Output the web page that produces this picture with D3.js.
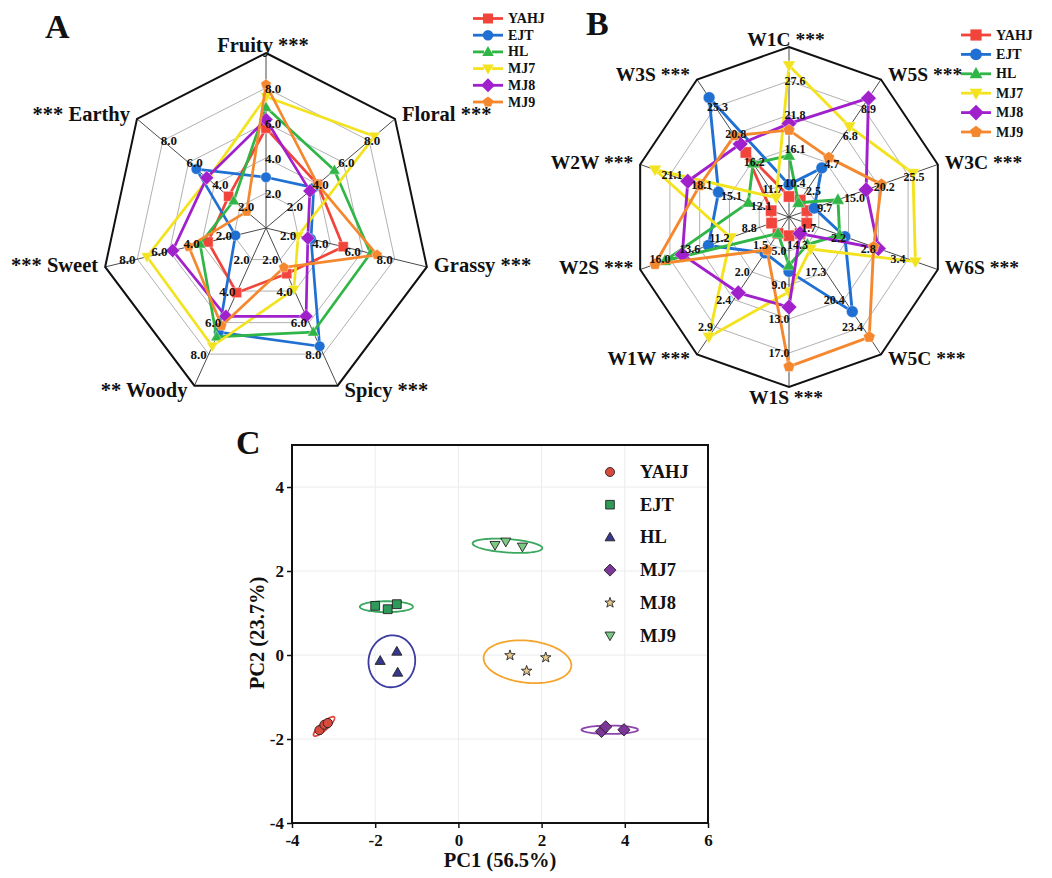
<!DOCTYPE html>
<html><head><meta charset="utf-8">
<script src="https://cdn.jsdelivr.net/npm/d3@7"></script>
<style>
body{margin:0;background:#fff}
svg{display:block}
text{font-family:"Liberation Serif","Times New Roman",serif;font-weight:bold;fill:#111}
</style></head>
<body><svg id="chart" width="1052" height="878"></svg>
<script>
// ---------------- DATA ----------------
const groups = ["YAHJ","EJT","HL","MJ7","MJ8","MJ9"];
const radarColors = ["#f1443b","#1f70d2","#30b646","#f3e31e","#a020cc","#f5882e"];
const radarShapes = ["square","circle","triangle","triangleDown","diamond","pentagon"];

// Panel A – sensory aroma attributes (scale 0–10)
const aromaAxes = ["Fruity ***","Floral ***","Grassy ***","Spicy ***","** Woody","*** Sweet","*** Earthy"];
const aromaTickLabels = ["2.0","4.0","6.0","8.0"];
const aromaRange = [0, 10];
const aromaYAHJ = [5.7, 4.0, 4.8, 2.9, 4.1, 3.6, 2.9];
const aromaEJT  = [2.9, 3.7, 2.8, 7.5, 6.6, 1.9, 5.4];
const aromaHL   = [6.9, 5.3, 6.5, 6.6, 6.9, 4.1, 2.5];
const aromaMJ7  = [7.5, 8.4, 2.0, 3.9, 7.5, 7.4, 4.5];
const aromaMJ8  = [6.2, 3.4, 2.6, 5.6, 5.6, 5.8, 4.6];
const aromaMJ9  = [8.2, 4.0, 6.9, 2.5, 6.2, 4.8, 1.5];

// Panel B – e-nose sensors (each axis own range)
const sensorAxes = ["W1C ***","W5S ***","W3C ***","W6S ***","W5C ***","W1S ***","W1W ***","W2S ***","W2W ***","W3S ***"];
const sensorMin = [4.65, 0.40, 4.43, 1.12, 11.27, 1.0, 1.03, 6.4, 9.1, 7.1];
const sensorMax = [33.3, 11.05, 30.8, 3.97, 26.43, 21.0, 3.37, 18.4, 24.1, 29.9];
const sensorTickLabels = [
  ["10.4","16.1","21.8","27.6"],["2.5","4.7","6.8","8.9"],["9.7","15.0","20.2","25.5"],
  ["1.7","2.2","2.8","3.4"],["14.3","17.3","20.4","23.4"],["5.0","9.0","13.0","17.0"],
  ["1.5","2.0","2.4","2.9"],["8.8","11.2","13.6","16.0"],["12.1","15.1","18.1","21.1"],
  ["11.7","16.2","20.8","25.3"]];
const sensorYAHJ = [8.1, 1.7, 7.6, 1.46, 13.1, 3.2, 1.31, 7.8, 10.9, 17.8];
const sensorEJT  = [10.1, 4.2, 8.9, 2.19, 21.7, 7.4, 1.64, 12.9, 16.2, 26.9];
const sensorHL   = [15.0, 1.5, 13.1, 2.09, 14.3, 6.7, 1.31, 16.4, 13.2, 16.0];
const sensorMJ7  = [30.2, 7.4, 26.4, 3.54, 14.8, 9.8, 3.07, 11.1, 22.6, 10.3];
const sensorMJ8  = [20.4, 9.6, 18.1, 2.83, 13.1, 11.6, 2.32, 15.0, 19.3, 19.2];
const sensorMJ9  = [19.3, 5.0, 20.8, 2.74, 24.5, 18.6, 1.59, 17.2, 18.1, 20.6];

// Panel C – PCA scores
const pcaFill   = ["#d84a3c","#2f9b5a","#37378c","#7c3698","#e8c98c","#7cc885"];
const pcaRing   = ["#e0473c","#3aa85e","#3b3ba0","#8e44ad","#f5a52c","#3aa85e"];
const pcaShapes = ["circle","square","triangle","diamond","star","triangleDown"];
const pc1Scores = [[-3.34,-3.22,-3.14],[-2.0,-1.70,-1.48],[-1.88,-1.48,-1.46],[3.44,3.54,3.98],[1.24,2.10,1.64],[0.88,1.14,1.54]];
const pc2Scores = [[-1.79,-1.66,-1.62],[1.17,1.09,1.21],[-0.14,0.08,-0.42],[-1.82,-1.71,-1.78],[-0.01,-0.06,-0.38],[2.62,2.70,2.58]];
const ellCx  = [-3.23, -1.73, -1.60, 3.64, 1.66, 1.18];
const ellCy  = [-1.70, 1.15, -0.15, -1.78, -0.16, 2.60];
const ellRx  = [0.33, 0.64, 0.56, 0.68, 1.06, 0.84];
const ellRy  = [0.09, 0.13, 0.62, 0.10, 0.50, 0.16];
const ellAng = [42, 0, -10, 0, -6, -4];
const pc1Ticks = [-4,-2,0,2,4,6];
const pc2Ticks = [-4,-2,0,2,4];

// ---------------- HELPERS ----------------
const svg = d3.select("#chart");
function shapePath(shape, s){
  switch(shape){
    case "square": return `M${-s},${-s}H${s}V${s}H${-s}Z`;
    case "circle": return d3.symbol(d3.symbolCircle, Math.PI*s*s*1.1)();
    case "triangle": return `M0,${-s*1.2}L${s*1.15},${s*0.8}L${-s*1.15},${s*0.8}Z`;
    case "triangleDown": return `M0,${s*1.2}L${s*1.15},${-s*0.8}L${-s*1.15},${-s*0.8}Z`;
    case "diamond": return `M0,${-s*1.4}L${s*1.4},0L0,${s*1.4}L${-s*1.4},0Z`;
    case "pentagon": {
      const p = d3.range(5).map(i=>{const a=-Math.PI/2+i*2*Math.PI/5; return [s*1.1*Math.cos(a), s*1.1*Math.sin(a)];});
      return "M"+p.map(d=>d.join(",")).join("L")+"Z";
    }
    case "star": {
      const p = d3.range(10).map(i=>{const a=-Math.PI/2+i*Math.PI/5; const r=i%2?s*0.5:s*1.25; return [r*Math.cos(a), r*Math.sin(a)];});
      return "M"+p.map(d=>d.join(",")).join("L")+"Z";
    }
  }
}

function drawRadar(cfg){
  const g = svg.append("g");
  const n = cfg.axes.length;
  const ang = i => -Math.PI/2 + i*2*Math.PI/n;
  const pt = (i,f) => [cfg.cx + f*cfg.rx*Math.cos(ang(i)), cfg.cy + f*cfg.ry*Math.sin(ang(i))];
  const levels = d3.range(1,5).map(k=>k/5);
  const poly = f => "M"+d3.range(n).map(i=>pt(i,f).join(",")).join("L")+"Z";
  levels.forEach(f=>{
    g.append("path").attr("d",poly(f)).attr("fill","none").attr("stroke","#a8a8a8").attr("stroke-width",0.9);
  });
  d3.range(n).forEach(i=>{
    const [x,y]=pt(i,1);
    g.append("line").attr("x1",cfg.cx).attr("y1",cfg.cy).attr("x2",x).attr("y2",y)
      .attr("stroke","#4a4a4a").attr("stroke-width",1);
  });
  g.append("path").attr("d",poly(1)).attr("fill","none").attr("stroke","#111").attr("stroke-width",2);
  cfg.series.forEach((vals,si)=>{
    const pts = vals.map((v,i)=>pt(i, cfg.scales[i](v)));
    g.append("path").attr("d","M"+pts.map(p=>p.join(",")).join("L")+"Z")
      .attr("fill","none").attr("stroke",radarColors[si]).attr("stroke-width",cfg.lw).attr("stroke-linejoin","round");
    pts.forEach(p=>{
      g.append("path").attr("d",shapePath(radarShapes[si],cfg.ms)).attr("transform",`translate(${p[0]},${p[1]})`)
        .attr("fill",radarColors[si]).attr("stroke","#fff").attr("stroke-opacity",0.5).attr("stroke-width",0.8);
    });
  });
  d3.range(n).forEach(i=>{
    const s = Math.sin(ang(i)), c = Math.cos(ang(i));
    const dx = s>0.05 ? -10 : (Math.abs(c)<0.05 ? cfg.topDx : (c>0 ? cfg.upRightDx : cfg.upLeftDx));
    const dy = (s<-0.05 && c>0.05) ? cfg.upRightDy : 0;
    cfg.ticks[i].forEach((lab,k)=>{
      const [x,y]=pt(i,levels[k]);
      g.append("text").attr("x", x + dx).attr("y",y + dy).attr("text-anchor","middle")
        .attr("dominant-baseline","central").attr("font-size",cfg.tickFs).text(lab);
    });
  });
  d3.range(n).forEach(i=>{
    const c = Math.cos(ang(i)), s = Math.sin(ang(i));
    const [x,y]=pt(i,1);
    let anchor, tx, ty;
    if (Math.abs(c)<0.05){ anchor="middle"; tx=x-3; ty = s<0 ? y-8 : y+10; }
    else { anchor = c>0?"start":"end"; tx = c>0? x+7 : x-7; ty = y + (s<-0.5?-5:(s>0.5?4:-2)); }
    g.append("text").attr("x",tx).attr("y",ty).attr("text-anchor",anchor).attr("dominant-baseline","central")
      .attr("font-size",cfg.labelFs).text(cfg.axes[i]);
  });
  groups.forEach((name,si)=>{
    const y = cfg.legY + si*cfg.legStep;
    g.append("line").attr("x1",cfg.legX-15).attr("x2",cfg.legX-4).attr("y1",y).attr("y2",y)
      .attr("stroke",radarColors[si]).attr("stroke-width",2.8);
    g.append("line").attr("x1",cfg.legX+4).attr("x2",cfg.legX+15).attr("y1",y).attr("y2",y)
      .attr("stroke",radarColors[si]).attr("stroke-width",2.8);
    g.append("path").attr("d",shapePath(radarShapes[si],cfg.ms)).attr("transform",`translate(${cfg.legX},${y})`)
      .attr("fill",radarColors[si]);
    g.append("text").attr("x",cfg.legX+20).attr("y",y).attr("dominant-baseline","central")
      .attr("font-size",14).text(name);
  });
}

// ---------------- PANEL A ----------------
drawRadar({
  cx:266, cy:228, rx:165, ry:175,
  axes: aromaAxes,
  scales: aromaAxes.map(()=>d3.scaleLinear().domain(aromaRange).range([0,1])),
  ticks: aromaAxes.map(()=>aromaTickLabels),
  series: [aromaYAHJ,aromaEJT,aromaHL,aromaMJ7,aromaMJ8,aromaMJ9],
  lw:2.7, ms:5.0, tickFs:13, labelFs:20.5, topDx:7, upRightDx:3, upLeftDx:6, upRightDy:0,
  legX:488, legY:18.5, legStep:16.7
});
svg.append("text").attr("x",45).attr("y",38).attr("font-size",34).text("A");

// ---------------- PANEL B ----------------
drawRadar({
  cx:789, cy:217, rx:156.5, ry:170,
  axes: sensorAxes,
  scales: sensorAxes.map((a,i)=>d3.scaleLinear().domain([sensorMin[i],sensorMax[i]]).range([0,1])),
  ticks: sensorTickLabels,
  series: [sensorYAHJ,sensorEJT,sensorHL,sensorMJ7,sensorMJ8,sensorMJ9],
  lw:2.9, ms:5.6, tickFs:12, labelFs:19.5, topDx:6, upRightDx:6, upLeftDx:2, upRightDy:2,
  legX:976, legY:35, legStep:19.4
});
svg.append("text").attr("x",586).attr("y",35).attr("font-size",34).text("B");

// ---------------- PANEL C ----------------
const px0=292, px1=708, py0=445, py1=823;
const xS = d3.scaleLinear().domain([-4,6]).range([px0,px1]);
const yS = d3.scaleLinear().domain([-4,5]).range([py1,py0]);
const gc = svg.append("g");
pc1Ticks.forEach(t=>gc.append("line").attr("x1",xS(t)).attr("x2",xS(t)).attr("y1",py0).attr("y2",py1).attr("stroke","#ececec").attr("stroke-width",1));
pc2Ticks.forEach(t=>gc.append("line").attr("y1",yS(t)).attr("y2",yS(t)).attr("x1",px0).attr("x2",px1).attr("stroke","#ececec").attr("stroke-width",1));
const fmt = d => d<0 ? "-"+Math.abs(d) : String(d);
gc.append("g").attr("transform",`translate(0,${py1})`)
  .call(d3.axisBottom(xS).tickValues(pc1Ticks).tickSize(5).tickFormat(fmt))
  .call(a=>{a.select(".domain").remove(); a.selectAll("line").attr("stroke","#111").attr("stroke-width",1.5);
    a.selectAll("text").attr("font-size",17).attr("dy","0.9em").attr("font-family",null);});
gc.append("g").attr("transform",`translate(${px0},0)`)
  .call(d3.axisLeft(yS).tickValues(pc2Ticks).tickSize(5).tickFormat(fmt))
  .call(a=>{a.select(".domain").remove(); a.selectAll("line").attr("stroke","#111").attr("stroke-width",1.5);
    a.selectAll("text").attr("font-size",17).attr("font-family",null);});
gc.append("rect").attr("x",px0).attr("y",py0).attr("width",px1-px0).attr("height",py1-py0)
  .attr("fill","none").attr("stroke","#111").attr("stroke-width",2);

groups.forEach((name,gi)=>{
  const a = ellAng[gi]*Math.PI/180;
  const pts = d3.range(0,361,4).map(t=>{
    const th=t*Math.PI/180;
    const ex=ellRx[gi]*Math.cos(th), ey=ellRy[gi]*Math.sin(th);
    return [ellCx[gi]+ex*Math.cos(a)-ey*Math.sin(a), ellCy[gi]+ex*Math.sin(a)+ey*Math.cos(a)];
  });
  gc.append("path").attr("d",d3.line().x(d=>xS(d[0])).y(d=>yS(d[1]))(pts))
    .attr("fill","none").attr("stroke",pcaRing[gi]).attr("stroke-width",1.8);
});
groups.forEach((name,gi)=>{
  pc1Scores[gi].forEach((v,k)=>{
    gc.append("path").attr("d",shapePath(pcaShapes[gi],4.4))
      .attr("transform",`translate(${xS(v)},${yS(pc2Scores[gi][k])})`)
      .attr("fill",pcaFill[gi]).attr("stroke","#222").attr("stroke-width",0.9);
  });
});
groups.forEach((name,gi)=>{
  const y = 472 + gi*32.7;
  gc.append("path").attr("d",shapePath(pcaShapes[gi],4.3)).attr("transform",`translate(610,${y})`)
    .attr("fill",pcaFill[gi]).attr("stroke","#222").attr("stroke-width",0.9);
  gc.append("text").attr("x",640).attr("y",y).attr("dominant-baseline","central").attr("font-size",18.5).text(name);
});
gc.append("text").attr("x",500).attr("y",860).attr("text-anchor","middle").attr("dominant-baseline","central")
  .attr("font-size",20.5).text("PC1 (56.5%)");
gc.append("text").attr("transform","translate(257,633) rotate(-90)").attr("text-anchor","middle")
  .attr("dominant-baseline","central").attr("font-size",20.5).text("PC2 (23.7%)");
svg.append("text").attr("x",236).attr("y",454).attr("font-size",34).text("C");
</script>
</body></html>
